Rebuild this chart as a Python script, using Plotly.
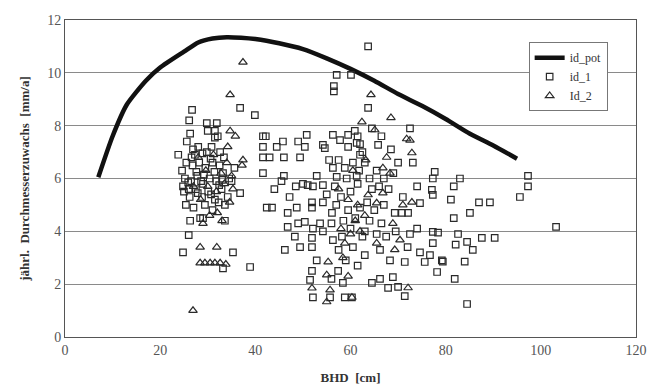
import plotly.graph_objects as go

# id_pot curve
pot_x = [7, 10, 13, 17, 20, 25, 28, 31, 34, 37, 40, 45, 50, 55, 60, 65, 70, 75, 80, 85, 90, 95]
pot_y = [6.05, 7.6, 8.8, 9.7, 10.2, 10.8, 11.15, 11.3, 11.35, 11.33, 11.28, 11.12, 10.9, 10.55, 10.15, 9.7,
         9.2, 8.75, 8.25, 7.7, 7.25, 6.75]

# id_1 (squares)
id1_x = [26.7, 26.1, 29.8, 31.9, 30.0, 31.5, 32.1, 31.5, 26.3, 25.6, 23.8, 26.9, 28.0, 29.8, 32.6, 36.8, 39.9,
         41.6, 42.2, 41.6, 41.6, 41.6, 36.8, 42.4,
         25.5, 26.8, 28.2, 29.5, 31.0, 32.5, 25.2, 26.5, 27.8, 29.0, 30.4, 31.8, 33.2, 34.5, 25.0, 26.2, 27.5,
         28.8, 30.1, 31.5, 32.9, 34.2, 25.4, 27.0, 29.4, 31.0, 33.6, 35.6, 26.3, 28.4, 33.6, 26.0, 24.8, 35.3,
         33.2, 38.9, 27.3, 30.8, 33.4, 24.6, 24.8, 26.0, 28.6, 30.7, 32.3, 29.0,
         27.6, 29.2, 31.4, 33.0, 26.6, 28.9, 30.6, 32.4, 25.9, 27.9, 35.0,
         57.1, 60.1, 56.5, 56.5, 44.5, 45.8, 46.0, 49.0, 50.8, 50.4, 49.4, 54.2, 54.6, 56.3, 57.8, 59.5, 59.5,
         60.9, 61.3, 50.0, 51.0, 52.9, 52.1, 54.2, 56.3, 57.1, 56.7, 59.2, 61.3, 43.0,
         43.5, 46.8, 48.7, 51.9, 51.9, 54.2, 56.1, 46.8, 49.0, 50.4, 52.1, 53.6, 54.2, 48.3, 49.4, 51.9, 51.9,
         46.2, 56.3, 58.2, 52.9, 57.4, 51.9, 51.5, 58.4, 52.1, 55.7, 58.8, 60.3,
         44.0, 45.5, 47.2, 48.5, 46.0,
         55.5, 57.5, 58.8, 60.5, 62.0, 55.0, 58.0, 60.0, 61.5, 57.0, 59.5, 61.0, 56.0, 58.5, 60.0, 62.0, 57.5,
         60.5, 62.5, 61.5, 59.0, 56.0, 63.0,
         63.7, 63.7, 61.5, 62.0, 62.5, 63.0, 61.8, 65.8, 70.0, 73.1, 72.5, 77.7, 77.3, 74.0, 77.1, 77.3, 74.6,
         69.3, 70.8, 72.1, 77.3, 78.4, 77.3, 74.6, 76.7, 75.6, 79.2, 78.2, 71.4, 68.3, 66.2, 64.5, 66.2, 68.9,
         67.9, 70.0, 71.4,
         64.0, 65.5, 67.0, 64.5, 66.0, 68.0, 63.5, 65.0, 67.0, 64.0, 66.5, 63.0, 65.5, 67.5, 69.0, 68.5, 66.5,
         64.5, 69.5, 71.0, 72.5, 74.0, 72.0,
         83.0, 81.7, 81.1, 81.7, 85.1, 87.0, 89.3, 82.6, 82.1, 84.5, 85.7, 87.6, 90.3, 79.4, 84.0, 81.9, 84.5,
         95.6, 97.3, 97.3, 103.2]
id1_y = [8.6, 8.2, 8.1, 8.1, 7.8, 7.8, 7.6, 7.55, 7.7, 7.4, 6.9, 7.1, 7.2, 7.0, 7.0, 8.67, 8.4,
         7.6, 7.6, 7.2, 6.8, 6.2, 5.45, 4.9,
         6.6, 6.5, 6.6, 6.4, 6.6, 6.5, 6.0, 5.9, 6.1, 5.8, 6.0, 5.9, 6.2, 6.0, 5.5, 5.3, 5.6,
         5.3, 5.5, 5.2, 5.6, 5.3, 5.0, 4.9, 5.0, 4.8, 5.0, 6.4, 4.4, 4.5, 4.4, 3.86, 3.2, 3.2,
         2.6, 2.65, 6.9, 7.2, 6.8, 6.3, 5.7, 5.6, 5.9, 5.4, 5.1, 4.5,
         6.25, 6.15, 6.25, 5.95, 6.8, 6.95, 6.75, 5.75, 5.85, 5.45, 5.9,
         9.92, 9.92, 9.5, 9.3, 7.2, 7.4, 6.8, 7.4, 7.65, 7.2, 6.8, 7.27, 7.15, 7.65, 7.45, 7.65, 7.2,
         7.8, 7.35, 5.8, 5.75, 6.1, 5.7, 5.75, 6.4, 6.06, 5.7, 6.0, 6.1, 6.8,
         4.9, 4.7, 4.9, 5.1, 4.9, 5.1, 4.7, 4.17, 4.3, 4.36, 4.1, 4.3, 4.0, 3.8, 3.4, 3.75, 3.4,
         3.3, 3.67, 3.8, 2.9, 2.5, 2.5, 2.16, 2.05, 1.5, 1.5, 1.5, 1.5,
         5.6, 5.9, 5.3, 5.7, 6.1,
         6.7, 6.7, 6.4, 6.6, 6.9, 5.4, 5.3, 5.5, 5.8, 5.0, 4.8, 4.5, 4.3, 4.4, 4.1, 4.9, 3.3,
         3.4, 3.8, 2.7, 2.9, 2.2, 3.1,
         11.0, 8.67, 7.6, 7.3, 7.0, 6.6, 6.3, 7.27, 6.6, 6.6, 7.9, 6.25, 6.0, 5.7, 5.57, 5.38, 5.07,
         4.7, 4.7, 4.7, 3.98, 3.95, 3.55, 3.2, 3.1, 2.84, 2.9, 2.46, 2.84, 2.9, 3.3, 2.05, 2.2, 2.27,
         1.86, 1.9, 1.55,
         6.0, 6.3, 6.0, 5.6, 5.7, 5.6, 5.1, 4.8, 5.0, 4.4, 4.3, 4.0, 3.9, 3.8, 6.2, 7.1, 7.6,
         7.9, 4.0, 5.3, 3.9, 4.1, 3.4,
         6.0, 5.7, 5.2, 4.5, 4.7, 5.1, 5.1, 3.9, 3.5, 3.6, 3.3, 3.75, 3.75, 2.85, 2.85, 2.2, 1.25,
         5.3, 6.1, 5.7, 4.17]

# Id_2 (triangles)
id2_x = [34.7, 37.4, 34.7, 34.2, 37.2, 37.4, 28.0, 29.6, 31.2, 32.8, 34.0, 35.0, 27.0, 30.0, 33.5, 35.3,
         28.5, 31.8, 34.6, 30.4, 32.0, 28.4, 31.9, 28.4, 29.4, 30.5, 31.5, 32.6, 33.8, 26.9, 29.0, 33.0, 35.8,
         55.3, 55.0, 59.5, 51.9, 55.7, 55.0, 60.3, 58.4, 58.8, 64.3, 68.5, 62.4, 65.1, 71.8, 72.5, 72.9, 67.6,
         66.8, 68.3, 63.7, 65.5, 66.8, 71.0, 72.9, 68.9, 70.4, 69.3, 72.1,
         62.0, 65.5, 61.0, 63.0, 60.0, 58.0, 59.5, 57.5, 60.5, 63.2, 61.5]
id2_y = [9.17, 10.4, 7.8, 7.2, 6.5, 6.7, 6.8, 6.3, 6.9, 6.2, 6.6, 6.1, 5.7, 5.7, 5.8, 5.6,
         5.2, 5.5, 5.1, 4.6, 4.7, 3.4, 3.4, 2.8, 2.8, 2.8, 2.8, 2.8, 2.75, 1.0, 4.3, 4.4, 7.6,
         2.84, 2.35, 2.3, 1.85, 1.78, 1.33, 1.5, 3.0, 3.55, 9.17, 8.3, 8.14, 7.84, 7.5, 7.45, 6.97, 6.8,
         6.4, 6.2, 5.38, 5.07, 5.45, 5.0, 5.1, 4.3, 3.67, 3.3, 1.86,
         4.0, 3.55, 4.4, 4.6, 3.9, 4.1, 5.2, 5.6, 6.3, 6.7, 5.0]

serif = "Liberation Serif, Times New Roman, serif"
mk_col = "#2a2a2a"

fig = go.Figure()
fig.add_trace(go.Scatter(x=pot_x, y=pot_y, mode="lines", name="id_pot",
                         line=dict(color="#111111", width=4.5, shape="spline", smoothing=0.6)))
fig.add_trace(go.Scatter(x=id1_x, y=id1_y, mode="markers", name="id_1",
                         marker=dict(symbol="square-open", size=6.5, color=mk_col,
                                     line=dict(width=1.2, color=mk_col))))
fig.add_trace(go.Scatter(x=id2_x, y=id2_y, mode="markers", name="Id_2",
                         marker=dict(symbol="triangle-up-open", size=7.5, color=mk_col,
                                     line=dict(width=1.2, color=mk_col))))

fig.update_layout(
    width=648, height=389,
    margin=dict(l=65, r=12, t=20, b=52, autoexpand=False),
    paper_bgcolor="white", plot_bgcolor="white",
    font=dict(family=serif, size=13, color="#444444"),
    showlegend=True,
    legend=dict(x=0.812, y=0.93, xanchor="left", yanchor="top",
                bgcolor="white", bordercolor="#777777", borderwidth=1,
                font=dict(family=serif, size=12, color="#333333"),
                tracegroupgap=0, itemwidth=30),
)
fig.update_xaxes(range=[0, 120], dtick=20, tick0=0, showgrid=False, zeroline=False, automargin=False,
                 showline=True, linecolor="#555555", linewidth=1, mirror=True, ticks="",
                 tickfont=dict(family=serif, size=14, color="#555555"),
                 title=dict(text="<b>BHD  [cm]</b>", font=dict(family=serif, size=13, color="#333333"),
                            standoff=16))
fig.update_yaxes(range=[0, 12], dtick=2, tick0=0, showgrid=True, gridcolor="#8a8a8a", gridwidth=1,
                 zeroline=False, showline=True, linecolor="#555555", linewidth=1, mirror=True, ticks="",
                 automargin=False,
                 tickfont=dict(family=serif, size=14, color="#555555"),
                 title=dict(text="<b>jährl.  Durchmesserzuwachs  [mm/a]</b>",
                            font=dict(family=serif, size=13, color="#333333"), standoff=14))

fig.write_html("out.html")
